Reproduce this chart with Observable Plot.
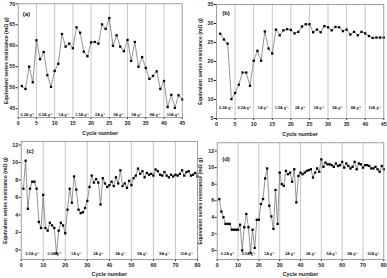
<!DOCTYPE html>
<html><head><meta charset="utf-8">
<script src="https://cdn.jsdelivr.net/npm/d3@7"></script>
<script src="https://cdn.jsdelivr.net/npm/@observablehq/plot@0.6"></script>
<style>
body{margin:0;background:#fff;}
#wrap{position:relative;width:387px;height:278px;overflow:hidden;background:#fff;}
.p{position:absolute;}
.p svg{overflow:visible;background:transparent !important;}
</style></head><body><div id="wrap"></div>
<script>
// ---- data ----
const ratesAB = ["0.2A g\u207B\u00B9","0.5A g\u207B\u00B9","1A g\u207B\u00B9","1.5A g\u207B\u00B9","2A g\u207B\u00B9","3A g\u207B\u00B9","5A g\u207B\u00B9","8A g\u207B\u00B9","10A g\u207B\u00B9"];
const ratesCD = ["0.2A g\u207B\u00B9","0.5A g\u207B\u00B9","1A g\u207B\u00B9","2A g\u207B\u00B9","3A g\u207B\u00B9","5A g\u207B\u00B9","8A g\u207B\u00B9","10A g\u207B\u00B9"];
const boundsAB = [0,5,10,15,20,25,30,35,40,45];
const boundsCD = [0,10,20,30,40,50,60,70,80];
const esrA = [50.4,49.7,55.0,51.3,61.3,56.8,58.5,53.0,50.2,54.0,
  55.7,62.8,59.8,60.5,59.4,64.4,63.1,58.6,57.5,60.8,
  60.9,60.5,65.1,64.0,66.6,60.0,62.5,59.8,58.7,61.4,
  56.4,60.9,55.0,57.3,54.7,52.1,52.8,53.9,49.7,51.6,
  45.4,48.3,45.2,48.2,47.2];
const esrB = [27.3,25.8,24.7,10.1,11.7,13.9,17.1,17.1,13.6,20.2,
  22.8,20.2,27.9,23.4,22.1,28.4,26.9,28.2,28.5,28.3,
  27.4,27.8,29.2,29.8,29.8,27.7,28.4,27.7,29.3,29.0,
  28.2,29.1,29.0,28.0,28.4,27.1,27.8,26.9,27.8,27.4,
  26.7,26.2,26.3,26.3,26.3];
const esrC = [7.0,10.2,4.7,7.0,7.8,7.8,7.0,3.2,2.5,6.3,
  2.5,2.2,3.1,2.8,2.5,-0.4,2.2,3.1,2.8,1.9,
  4.6,7.0,5.4,8.4,6.9,4.6,4.2,4.3,4.8,5.6,
  7.2,8.5,7.7,8.1,7.7,5.2,8.2,7.6,7.2,7.4,
  7.8,7.3,8.3,7.6,9.1,7.3,7.6,7.1,7.9,7.4,
  8.2,8.5,9.3,8.7,9.0,8.3,8.8,8.6,8.7,8.5,
  9.2,9.0,8.6,8.5,8.9,8.5,8.3,8.6,8.4,8.6,
  8.5,8.7,9.1,8.5,8.9,9.0,8.5,8.6,8.8,8.4];
const esrD = [6.2,4.7,4.0,3.2,3.2,3.2,2.5,2.5,2.5,2.5,
  3.1,0.0,2.8,4.4,2.8,-0.3,2.5,0.3,3.7,3.7,
  5.6,6.2,8.7,9.9,5.4,4.1,2.6,7.3,3.2,9.4,
  8.0,7.8,9.6,9.2,9.4,8.3,9.8,5.8,9.0,9.4,
  9.2,9.4,9.6,9.7,9.8,8.8,9.4,9.9,9.5,11.0,
  10.1,10.6,10.4,10.4,10.3,10.1,10.5,10.2,10.3,10.7,
  10.0,10.5,10.2,9.9,10.1,10.7,9.8,10.5,10.4,10.0,
  10.3,10.3,10.2,9.9,9.9,10.1,9.8,9.5,10.2,9.8];
const ticksX45 = [0,5,10,15,20,25,30,35,40,45];
const ticksX80 = [0,10,20,30,40,50,60,70,80];
const ticksYA = [45,50,55,60,65,70];
const ticksYB = [5,10,15,20,25,30,35];
const ticksYCD = [0,2,4,6,8,10,12];

const FONT = "Liberation Sans, Arial, sans-serif";
const wrap = document.getElementById("wrap");

function panel(o) {
  const data = o.values.map((v, i) => ({c: i + 1, v}));
  const segs = o.rates.map((r, i) => ({x: (o.bounds[i] + o.bounds[i + 1]) / 2, t: r}));
  const inner = o.bounds.slice(1, -1);
  const svg = Plot.plot({
    width: o.width, height: o.height,
    marginLeft: o.m[0], marginRight: o.m[1], marginTop: o.m[2], marginBottom: o.m[3],
    style: {fontFamily: FONT, fontSize: "5.3px", fontWeight: "bold", color: "#222", background: "transparent"},
    x: {domain: o.xDomain, ticks: o.xTicks, tickSize: 2, tickPadding: 1.5, label: null},
    y: {domain: o.yDomain, ticks: o.yTicks, tickSize: 2, tickPadding: 1, label: null},
    marks: [
      Plot.ruleX(inner, {stroke: "#c8c8c8", strokeWidth: 1}),
      Plot.line(data, {x: "c", y: "v", stroke: "#666", strokeWidth: 0.7}),
      Plot.dot(data, {x: "c", y: "v", symbol: "square", r: 1.3, fill: "#000", stroke: "none"}),
      Plot.text(segs, {x: "x", text: "t", frameAnchor: "bottom", lineAnchor: "middle", dy: -o.segDy, fontSize: 3.8, fill: "#222"}),
      Plot.text([o.letter], {frameAnchor: "top-left", textAnchor: "start", lineAnchor: "middle", dx: o.ldx, dy: o.ldy, fontSize: 6, fontWeight: "bold", fill: "#111"}),
      Plot.text(["Cycle number"], {frameAnchor: "bottom", textAnchor: "middle", lineAnchor: "middle", dy: o.xtDy, fontSize: 5.4, fontWeight: "bold", fill: "#222"}),
      Plot.text(["Equivalent series resistance (m\u03A9 g)"], {frameAnchor: "left", textAnchor: "middle", rotate: -90, lineAnchor: "middle", dx: o.ytDx, fontSize: 5.1, fontWeight: "bold", fill: "#222"}),
      Plot.frame({stroke: "#888", strokeWidth: 0.8})
    ]
  });
  const d = document.createElement("div");
  d.className = "p";
  d.style.left = o.left + "px";
  d.style.top = o.top + "px";
  d.appendChild(svg);
  wrap.appendChild(d);
}

panel({values: esrA, rates: ratesAB, bounds: boundsAB, xDomain: [0,45], xTicks: ticksX45, yDomain: [42.9,70], yTicks: ticksYA,
  letter: "(a)", left: 0, top: 0, width: 193, height: 139, m: [17.7, 11.3, 3.3, 22], segDy: 3, ldx: 4.5, ldy: 10.7, xtDy: 16, ytDx: -11.7});
panel({values: esrB, rates: ratesAB, bounds: boundsAB, xDomain: [0,45], xTicks: ticksX45, yDomain: [5,35], yTicks: ticksYB,
  letter: "(b)", left: 193, top: 0, width: 194, height: 139, m: [23, 3.7, 4, 21], segDy: 11, ldx: 5.7, ldy: 8.3, xtDy: 16, ytDx: -16});
panel({values: esrC, rates: ratesCD, bounds: boundsCD, xDomain: [0,80], xTicks: ticksX80, yDomain: [-1.1,12.4], yTicks: ticksYCD,
  letter: "(c)", left: 0, top: 135, width: 200, height: 143, m: [20.7, 3, 6, 19], segDy: 6, ldx: 5.3, ldy: 9.7, xtDy: 14.5, ytDx: -15.7});
panel({values: esrD, rates: ratesCD, bounds: boundsCD, xDomain: [0,80], xTicks: ticksX80, yDomain: [-1.1,13], yTicks: ticksYCD,
  letter: "(d)", left: 193, top: 135, width: 194, height: 143, m: [23.7, 3.7, 7.3, 19], segDy: 6, ldx: 5, ldy: 16.7, xtDy: 14.5, ytDx: -16.7});
</script></body></html>
